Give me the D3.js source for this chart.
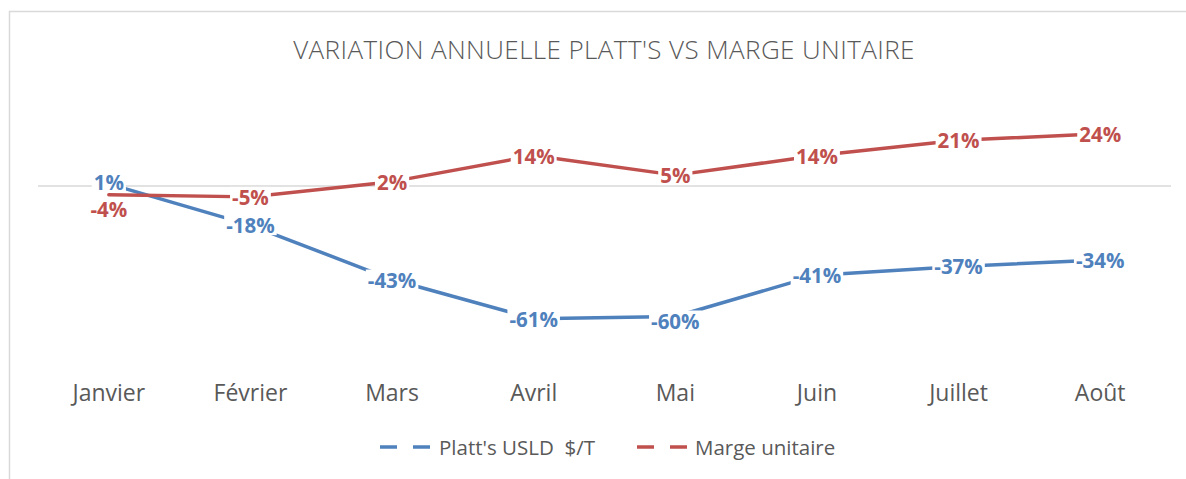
<!DOCTYPE html>
<html><head><meta charset="utf-8">
<script src="https://cdn.jsdelivr.net/npm/d3@7"></script>
<style>body{margin:0;background:#fff}svg{display:block}</style>
</head><body>
<svg id="c" width="1186" height="479"></svg>
<script>
const categories = ["Janvier","Février","Mars","Avril","Mai","Juin","Juillet","Août"];
const plattValues = [0.01,-0.18,-0.43,-0.61,-0.60,-0.41,-0.37,-0.34];
const margeValues = [-0.04,-0.05,0.02,0.14,0.05,0.14,0.21,0.24];
const seriesNames = ["Platt's USLD\u00A0\u00A0$/T","Marge unitaire"];
const yDomain = [-0.8, 0.4];

const colors = ["#4F81BD","#C0504D"];
const labelDy = [[-2,0,0,0,4,0,0,0],[14,0,0,0,0,0,0,0]];
const textColor = "#595959";
const font = "'Open Sans', sans-serif";

const svg = d3.select("#c");
const W = 1186, H = 479;
const plot = {left: 38, right: 1171, top: 99, bottom: 360};

svg.append("rect").attr("x",9.5).attr("y",11.5).attr("width",W+10).attr("height",H+10)
  .attr("fill","#fff").attr("stroke","#d9d9d9").attr("stroke-width",1.5);

svg.append("text").attr("x",604).attr("y",59).attr("text-anchor","middle")
  .attr("font-family",font).attr("font-weight",300).attr("font-size",26).attr("letter-spacing",0.4)
  .attr("fill",textColor)
  .text("VARIATION ANNUELLE PLATT'S VS MARGE UNITAIRE");

const x = d3.scaleBand().domain(categories).range([plot.left, plot.right]);
const y = d3.scaleLinear().domain(yDomain).range([plot.bottom, plot.top]);
const cx = d => x(d) + x.bandwidth()/2;

// gridline at zero
svg.append("line").attr("x1",plot.left).attr("x2",plot.right)
  .attr("y1",y(0)).attr("y2",y(0)).attr("stroke","#d9d9d9").attr("stroke-width",1.5);

// category axis
const xAxis = d3.axisBottom(x).tickSize(0).tickPadding(0);
const gx = svg.append("g").attr("transform",`translate(0,${plot.bottom})`).call(xAxis);
gx.select(".domain").remove();
gx.selectAll("text").attr("font-family",font).attr("font-size",23).attr("fill",textColor)
  .attr("dy",0).attr("y",41);

const series = [plattValues, margeValues];
const line = d3.line().x((d,i)=>cx(categories[i])).y(d=>y(d));
series.forEach((vals,s)=>{
  svg.append("path").datum(vals).attr("d",line).attr("fill","none")
    .attr("stroke",colors[s]).attr("stroke-width",3.5).attr("stroke-linejoin","round").attr("stroke-linecap","round");
});

const fmt = d3.formatLocale({decimal:".",thousands:",",grouping:[3],currency:["","$"],minus:"-"}).format(".0%");
series.forEach((vals,s)=>{
  vals.forEach((v,i)=>{
    const g = svg.append("g");
    const t = g.append("text").attr("x",cx(categories[i])).attr("y",y(v)+labelDy[s][i])
      .attr("text-anchor","middle").attr("dominant-baseline","central")
      .attr("font-family",font).attr("font-weight","bold").attr("font-size",20.5).attr("fill",colors[s])
      .text(fmt(v));
    const b = t.node().getBBox();
    g.insert("rect","text").attr("x",b.x-2).attr("y",b.y+4).attr("width",b.width+4).attr("height",b.height-8).attr("fill","#fff");
  });
});

// legend
const legend = [{x:380, tx:439},{x:637, tx:695}];
legend.forEach((L,s)=>{
  svg.append("line").attr("x1",L.x).attr("x2",L.x+54).attr("y1",447).attr("y2",447)
    .attr("stroke",colors[s]).attr("stroke-width",3.5).attr("stroke-dasharray","17,16");
  svg.append("text").attr("x",L.tx).attr("y",447).attr("dominant-baseline","central")
    .attr("font-family",font).attr("font-size",20.5).attr("fill",textColor).text(seriesNames[s]);
});
</script>
</body></html>
